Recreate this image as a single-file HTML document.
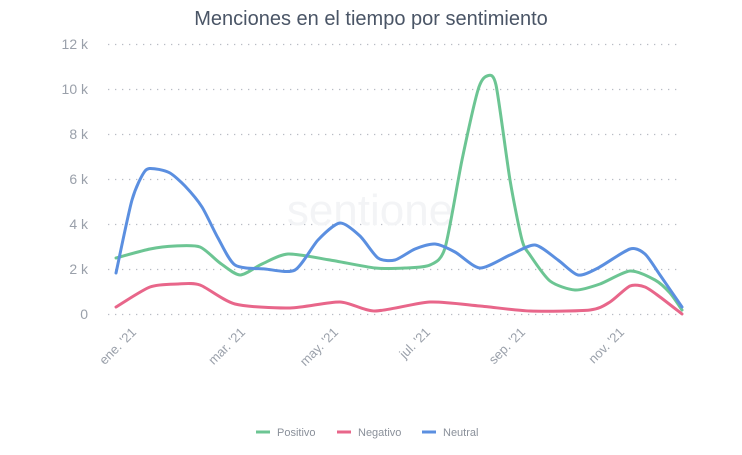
<!DOCTYPE html>
<html><head><meta charset="utf-8"><style>
body{margin:0;background:#fff;width:742px;height:450px;overflow:hidden;font-family:"Liberation Sans",sans-serif}
</style></head><body>
<svg width="742" height="450" xmlns="http://www.w3.org/2000/svg" font-family="Liberation Sans, sans-serif">
<text x="371" y="25" text-anchor="middle" font-size="20" fill="#4a5566">Menciones en el tiempo por sentimiento</text>
<g stroke="#b8bcc4" stroke-width="1.3" stroke-dasharray="1.3,5.7">
<line x1="108" x2="682" y1="44.5" y2="44.5"/><line x1="108" x2="682" y1="89.5" y2="89.5"/>
<line x1="108" x2="682" y1="134.5" y2="134.5"/><line x1="108" x2="682" y1="179.5" y2="179.5"/>
<line x1="108" x2="682" y1="224.5" y2="224.5"/><line x1="108" x2="682" y1="269.5" y2="269.5"/>
<line x1="108" x2="682" y1="314.5" y2="314.5"/>
</g>
<g font-size="14" fill="#9aa0aa" text-anchor="end">
<text x="88" y="49">12 k</text><text x="88" y="94">10 k</text><text x="88" y="139">8 k</text>
<text x="88" y="184">6 k</text><text x="88" y="229">4 k</text><text x="88" y="274">2 k</text><text x="88" y="319">0</text>
</g>
<text x="370" y="225" text-anchor="middle" font-size="44" fill="#f3f4f6">sentione</text>
<g font-size="13" fill="#9aa0aa" text-anchor="end">
<text transform="translate(137,333) rotate(-45)">ene. '21</text>
<text transform="translate(246,333) rotate(-45)">mar. '21</text>
<text transform="translate(339,333) rotate(-45)">may. '21</text>
<text transform="translate(431,333) rotate(-45)">jul. '21</text>
<text transform="translate(526,333) rotate(-45)">sep. '21</text>
<text transform="translate(625,333) rotate(-45)">nov. '21</text>
</g>
<g fill="none" stroke-width="3" stroke-linejoin="round" stroke-linecap="round">
<path id="neg" stroke="#e8668a"/><path id="pos" stroke="#6cc593"/><path id="neu" stroke="#5b8fe0"/>
</g>
<g font-size="11" fill="#8a909a">
<line x1="256" x2="270" y1="432" y2="432" stroke="#6cc593" stroke-width="3"/><text x="277" y="436">Positivo</text>
<line x1="337" x2="351" y1="432" y2="432" stroke="#e8668a" stroke-width="3"/><text x="358" y="436">Negativo</text>
<line x1="422" x2="436" y1="432" y2="432" stroke="#5b8fe0" stroke-width="3"/><text x="443" y="436">Neutral</text>
</g>
</svg>
<script>
function cr(p){const t=8;let d="M"+p[0][0]+","+p[0][1];for(let i=0;i<p.length-1;i++){const a=p[i-1]||p[i],b=p[i],c=p[i+1],e=p[i+2]||c;
d+=" C"+(b[0]+(c[0]-a[0])/t)+","+(b[1]+(c[1]-a[1])/t)+" "+(c[0]-(e[0]-b[0])/t)+","+(c[1]-(e[1]-b[1])/t)+" "+c[0]+","+c[1];}return d;}
document.getElementById("neu").setAttribute("d",cr([[116,273],[132,200],[145,171],[156,169],[170,173],[185,186],[202,207],[218,238],[235,265],[265,269],[295,270],[318,240],[340,223],[360,236],[378,258],[395,260],[415,249],[435,244],[455,252],[480,268],[510,255],[535,245],[558,260],[578,275],[598,268],[630,249],[645,254],[660,275],[682,307]]));
document.getElementById("pos").setAttribute("d",cr([[116,258],[150,249],[175,246],[200,247],[220,263],[240,275],[262,264],[288,254],[330,260],[375,268],[405,268],[430,265],[445,248],[462,160],[478,90],[487,76],[496,85],[510,180],[522,240],[530,255],[550,281],[575,290],[600,284],[630,271],[655,280],[670,293],[682,310]]));
document.getElementById("neg").setAttribute("d",cr([[116,307],[150,287],[178,284],[200,285],[235,304],[290,308],[340,302],[375,311],[430,302],[480,306],[530,311],[590,310],[610,302],[630,286],[645,287],[660,297],[682,314]]));
</script>
</body></html>
